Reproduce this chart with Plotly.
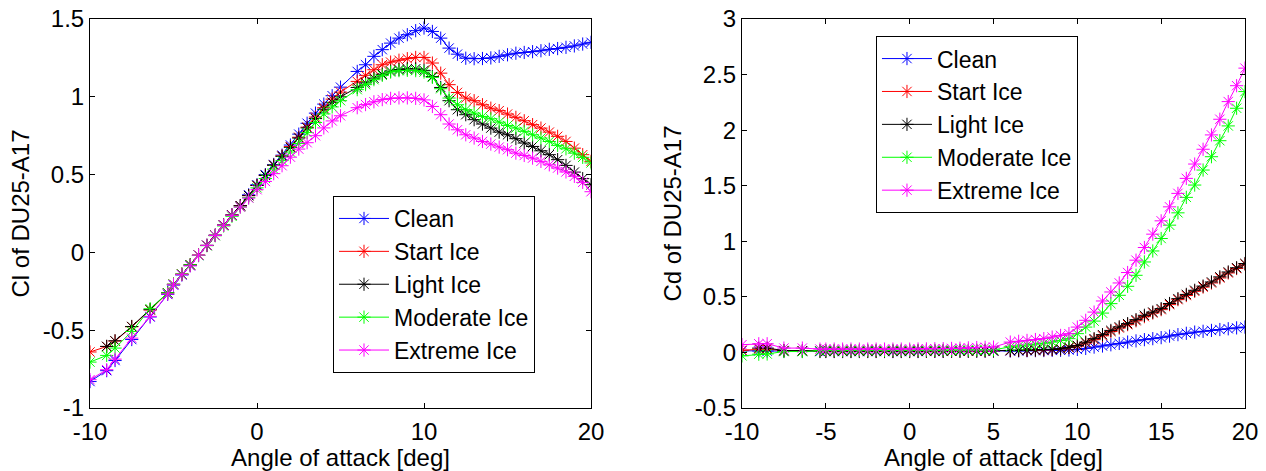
import plotly.graph_objects as go
from plotly.subplots import make_subplots

# ---------------- data ----------------
aoa = [-10, -9, -8.5, -7.5, -6.4, -5.35,
       -5, -4.5, -4, -3.5, -3, -2.5, -2, -1.5, -1, -0.5, 0, 0.5, 1, 1.5, 2, 2.5, 3, 3.5, 4, 4.5, 5,
       6, 6.5, 7, 7.5, 8, 8.5, 9, 9.5, 10, 10.5, 11, 11.5, 12, 12.5, 13, 13.5, 14, 14.5, 15,
       15.5, 16, 16.5, 17, 17.5, 18, 18.5, 19, 19.5, 20]

series_names = ["Clean", "Start Ice", "Light Ice", "Moderate Ice", "Extreme Ice"]

cl_clean = [-0.83, -0.76, -0.695, -0.56, -0.415, -0.27,
            -0.21, -0.145, -0.085, -0.02, 0.045, 0.11, 0.175, 0.24, 0.30, 0.37, 0.435, 0.50, 0.565, 0.625, 0.69, 0.76, 0.83, 0.895, 0.953, 1.007, 1.062,
            1.163, 1.206, 1.26, 1.303, 1.345, 1.377, 1.399, 1.425, 1.442, 1.42, 1.377, 1.313, 1.274, 1.248, 1.245, 1.246, 1.25, 1.26, 1.27,
            1.28, 1.285, 1.29, 1.296, 1.305, 1.31, 1.318, 1.327, 1.339, 1.35]
cl_start = [-0.64, -0.605, -0.57, -0.478, -0.37, -0.26,
            -0.205, -0.14, -0.08, -0.018, 0.045, 0.11, 0.175, 0.24, 0.30, 0.365, 0.43, 0.495, 0.56, 0.62, 0.68, 0.74, 0.805, 0.87, 0.93, 0.985, 1.03,
            1.099, 1.138, 1.174, 1.206, 1.223, 1.235, 1.245, 1.253, 1.253, 1.217, 1.152, 1.078, 1.028, 0.992, 0.975, 0.949, 0.927, 0.911, 0.889,
            0.868, 0.846, 0.821, 0.799, 0.773, 0.746, 0.713, 0.67, 0.628, 0.585]
cl_light = [None, -0.604, -0.568, -0.476, -0.368, -0.26,
            -0.205, -0.14, -0.08, -0.018, 0.045, 0.11, 0.175, 0.24, 0.30, 0.365, 0.43, 0.495, 0.56, 0.617, 0.675, 0.735, 0.80, 0.86, 0.92, 0.965, 1.0,
            1.06, 1.09, 1.12, 1.145, 1.165, 1.175, 1.18, 1.18, 1.17, 1.13, 1.06, 0.975, 0.917, 0.885, 0.853, 0.825, 0.799, 0.773, 0.756,
            0.731, 0.703, 0.681, 0.653, 0.628, 0.596, 0.559, 0.516, 0.474, 0.435]
cl_moderate = [-0.705, -0.662, -0.615, -0.508, -0.362, -0.26,
               -0.205, -0.14, -0.08, -0.02, 0.043, 0.107, 0.17, 0.232, 0.292, 0.352, 0.415, 0.475, 0.535, 0.59, 0.645, 0.70, 0.77, 0.835, 0.89, 0.935, 0.975,
               1.046, 1.078, 1.110, 1.138, 1.159, 1.168, 1.17, 1.168, 1.159, 1.125, 1.052, 0.992, 0.949, 0.917, 0.895, 0.874, 0.859, 0.837, 0.816,
               0.799, 0.778, 0.756, 0.735, 0.713, 0.688, 0.666, 0.638, 0.611, 0.575]
cl_extreme = [-0.818, -0.754, -0.686, -0.551, -0.411, -0.268,
              -0.208, -0.143, -0.086, -0.018, 0.045, 0.109, 0.174, 0.238, 0.291, 0.349, 0.403, 0.456, 0.506, 0.557, 0.612, 0.664, 0.705, 0.75, 0.80, 0.845, 0.878,
              0.93, 0.95, 0.968, 0.982, 0.99, 0.993, 0.993, 0.99, 0.98, 0.938, 0.885, 0.825, 0.788, 0.756, 0.735, 0.713, 0.696, 0.677, 0.66,
              0.638, 0.623, 0.606, 0.585, 0.563, 0.542, 0.517, 0.489, 0.45, 0.39]

cd_clean = [0.015, 0.013, 0.012, 0.010, 0.009, 0.008,
            0.008, 0.008, 0.008, 0.008, 0.008, 0.008, 0.008, 0.008, 0.008, 0.008, 0.008, 0.008, 0.009, 0.009, 0.009, 0.010, 0.010, 0.010, 0.011, 0.011, 0.012,
            0.013, 0.014, 0.015, 0.016, 0.017, 0.018, 0.019, 0.022, 0.027, 0.036, 0.048, 0.058, 0.069, 0.081, 0.093, 0.104, 0.115, 0.124, 0.133,
            0.147, 0.16, 0.172, 0.183, 0.19, 0.198, 0.206, 0.213, 0.221, 0.228]
cd_start = [0.02, 0.03, 0.03, 0.015, 0.013, 0.012,
            0.011, 0.011, 0.011, 0.011, 0.011, 0.011, 0.011, 0.011, 0.011, 0.011, 0.011, 0.012, 0.012, 0.012, 0.012, 0.013, 0.013, 0.013, 0.014, 0.014, 0.015,
            0.017, 0.018, 0.019, 0.021, 0.023, 0.026, 0.031, 0.043, 0.058, 0.085, 0.115, 0.150, 0.188, 0.22, 0.25, 0.285, 0.322, 0.355, 0.385,
            0.43, 0.475, 0.512, 0.55, 0.588, 0.625, 0.67, 0.715, 0.755, 0.795]
cd_light = [None, 0.039, 0.039, 0.017, 0.015, 0.013,
            0.012, 0.012, 0.012, 0.012, 0.012, 0.012, 0.012, 0.012, 0.012, 0.012, 0.012, 0.012, 0.013, 0.013, 0.013, 0.013, 0.014, 0.014, 0.014, 0.015, 0.015,
            0.018, 0.019, 0.020, 0.022, 0.025, 0.028, 0.033, 0.046, 0.063, 0.092, 0.124, 0.16, 0.198, 0.23, 0.259, 0.295, 0.334, 0.363, 0.394,
            0.44, 0.484, 0.522, 0.559, 0.597, 0.634, 0.68, 0.724, 0.762, 0.80]
cd_moderate = [-0.031, -0.016, -0.014, 0.008, 0.008, 0.015,
               0.017, 0.017, 0.017, 0.017, 0.017, 0.017, 0.017, 0.017, 0.018, 0.018, 0.018, 0.018, 0.019, 0.019, 0.019, 0.02, 0.02, 0.021, 0.022, 0.022, 0.023,
               0.05, 0.058, 0.066, 0.074, 0.082, 0.093, 0.108, 0.124, 0.169, 0.228, 0.282, 0.354, 0.439, 0.514, 0.595, 0.694, 0.814, 0.913, 1.025,
               1.145, 1.256, 1.395, 1.506, 1.641, 1.761, 1.905, 2.038, 2.197, 2.347]
cd_extreme = [0.07, 0.078, 0.078, 0.039, 0.039, 0.03,
              0.03, 0.03, 0.03, 0.03, 0.03, 0.03, 0.03, 0.03, 0.03, 0.03, 0.03, 0.031, 0.032, 0.033, 0.034, 0.036, 0.038, 0.041, 0.044, 0.046, 0.048,
              0.093, 0.1, 0.108, 0.116, 0.124, 0.138, 0.153, 0.169, 0.228, 0.289, 0.363, 0.463, 0.544, 0.625, 0.719, 0.83, 0.944, 1.064, 1.184,
              1.31, 1.431, 1.566, 1.695, 1.828, 1.957, 2.098, 2.257, 2.40, 2.558]

cl_xticks = [-10, 0, 10, 20]
cl_xticklabels = ["-10", "0", "10", "20"]
cl_yticks = [-1, -0.5, 0, 0.5, 1, 1.5]
cl_yticklabels = ["-1", "-0.5", "0", "0.5", "1", "1.5"]
cd_xticks = [-10, -5, 0, 5, 10, 15, 20]
cd_xticklabels = ["-10", "-5", "0", "5", "10", "15", "20"]
cd_yticks = [-0.5, 0, 0.5, 1, 1.5, 2, 2.5, 3]
cd_yticklabels = ["-0.5", "0", "0.5", "1", "1.5", "2", "2.5", "3"]

colors = ["#0000FF", "#FF0000", "#000000", "#00FF00", "#FF00FF"]

# ---------------- figure ----------------
FONT = "Arial, 'Liberation Sans', sans-serif"
FS = 24
LFS = 23

fig = make_subplots(rows=1, cols=2)

cl_all = [cl_clean, cl_start, cl_light, cl_moderate, cl_extreme]
cd_all = [cd_clean, cd_start, cd_light, cd_moderate, cd_extreme]

for i, name in enumerate(series_names):
    mk = dict(symbol="asterisk-open", size=11, color=colors[i],
              line=dict(width=1, color=colors[i]))
    fig.add_trace(go.Scatter(x=aoa, y=cl_all[i], name=name, mode="lines+markers",
                             line=dict(color=colors[i], width=1), marker=mk,
                             legend="legend", legendgroup="a%d" % i,
                             connectgaps=False), row=1, col=1)
for i, name in enumerate(series_names):
    mk = dict(symbol="asterisk-open", size=11, color=colors[i],
              line=dict(width=1, color=colors[i]))
    fig.add_trace(go.Scatter(x=aoa, y=cd_all[i], name=name, mode="lines+markers",
                             line=dict(color=colors[i], width=1), marker=mk,
                             legend="legend2", legendgroup="b%d" % i,
                             connectgaps=False), row=1, col=2)

axis_common = dict(showline=True, linecolor="black", linewidth=1, mirror="ticks",
                   ticks="inside", ticklen=5, tickcolor="black", tickwidth=1,
                   showgrid=False, zeroline=False, automargin=False,
                   tickfont=dict(family=FONT, size=FS, color="black"))

fig.update_xaxes(**axis_common)
fig.update_yaxes(**axis_common)

title_font = dict(family=FONT, size=FS, color="black")

fig.update_layout(
    xaxis=dict(domain=[0, 0.4338], range=[-10, 20], tickmode="array",
               tickvals=cl_xticks, ticktext=cl_xticklabels, ticklabelstandoff=2,
               title=dict(text="Angle of attack [deg]", font=title_font, standoff=0)),
    yaxis=dict(range=[-1, 1.5], tickmode="array",
               tickvals=cl_yticks, ticktext=cl_yticklabels,
               title=dict(text="Cl of DU25-A17", font=title_font, standoff=6)),
    xaxis2=dict(domain=[0.5645, 1.0], range=[-10, 20], tickmode="array",
                tickvals=cd_xticks, ticktext=cd_xticklabels, ticklabelstandoff=2,
                title=dict(text="Angle of attack [deg]", font=title_font, standoff=0)),
    yaxis2=dict(range=[-0.5, 3], tickmode="array",
                tickvals=cd_yticks, ticktext=cd_yticklabels,
                title=dict(text="Cd of DU25-A17", font=title_font, standoff=6)),
    legend=dict(x=0.2104, y=0.545, xanchor="left", yanchor="top",
                bgcolor="white", bordercolor="black", borderwidth=1,
                font=dict(family=FONT, size=LFS, color="black"),
                traceorder="grouped", tracegroupgap=0, itemwidth=50),
    legend2=dict(x=0.6805, y=0.956, xanchor="left", yanchor="top",
                 bgcolor="white", bordercolor="black", borderwidth=1,
                 font=dict(family=FONT, size=LFS, color="black"),
                 traceorder="grouped", tracegroupgap=0, itemwidth=50),
    width=1266, height=471, autosize=False,
    margin=dict(l=90, r=21, t=19, b=63),
    paper_bgcolor="white", plot_bgcolor="white",
    font=dict(family=FONT, size=FS, color="black"),
    showlegend=True,
)

fig.write_html("out.html",
               config={"displayModeBar": False},
               post_script="document.body.style.margin='0';document.body.style.overflow='hidden';")
